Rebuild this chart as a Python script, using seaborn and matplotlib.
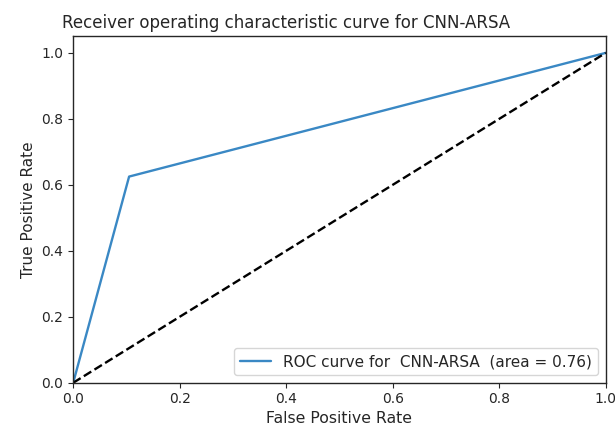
import matplotlib
matplotlib.use("Agg")
import matplotlib.pyplot as plt
import seaborn as sns
import pandas as pd

# ROC operating points and summary
fpr = [0.0, 0.105, 1.0]
tpr = [0.0, 0.625, 1.0]
chance = [0.0, 1.0]
model_name = "CNN-ARSA"
roc_auc = 0.76

sns.set_style("ticks")
plt.rcParams["font.family"] = ["DejaVu Sans"]

fig = plt.figure(figsize=(6.15, 4.33), dpi=100)
ax = fig.add_axes([0.119, 0.116, 0.866, 0.800])

df = pd.DataFrame({"fpr": fpr, "tpr": tpr})
sns.lineplot(data=df, x="fpr", y="tpr", ax=ax, color="#3a88c4", lw=1.7,
             sort=False, estimator=None,
             label=f"ROC curve for  {model_name}  (area = {roc_auc:.2f})")
sns.lineplot(x=chance, y=chance, ax=ax, color="black", lw=1.7, linestyle="--")

ax.set_xlim(0.0, 1.0)
ax.set_ylim(0.0, 1.05)
ax.set_xlabel("False Positive Rate", fontsize=11.3, labelpad=3)
ax.set_ylabel("True Positive Rate", fontsize=11, labelpad=4)
ax.set_title(f"Receiver operating characteristic curve for {model_name}",
             fontsize=12, loc="left", x=-0.021)
for s in ax.spines.values():
    s.set_visible(True)
    s.set_linewidth(1.0)
ax.tick_params(labelsize=10)
ax.legend(loc="lower right", fontsize=11)

fig.savefig("out.png", dpi=100)
